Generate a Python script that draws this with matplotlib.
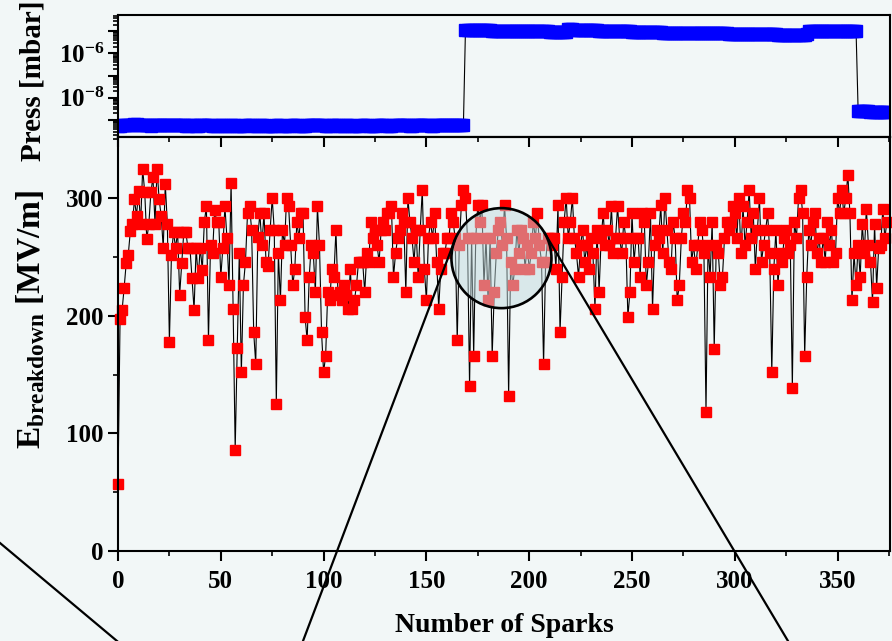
import numpy as np
import matplotlib
matplotlib.use('Agg')
import matplotlib.pyplot as plt
from matplotlib.patches import Ellipse
from matplotlib.lines import Line2D
from matplotlib.ticker import MultipleLocator, LogLocator, FuncFormatter, NullFormatter

plt.rcParams['font.family'] = 'Liberation Serif'
plt.rcParams['font.weight'] = 'bold'
plt.rcParams['mathtext.fontset'] = 'custom'
plt.rcParams['mathtext.rm'] = 'Liberation Serif:bold'
plt.rcParams['mathtext.bf'] = 'Liberation Serif:bold'
plt.rcParams['mathtext.it'] = 'Liberation Serif:bold'
plt.rcParams['axes.linewidth'] = 1.5

# breakdown field per spark [MV/m]
e_field = [
    57, 197, 205, 224, 245, 252, 272, 278, 299, 285, 306, 278, 325, 305, 265, 278, 305, 318, 278, 325, 299, 285, 258, 312, 278,
    178, 252, 271, 258, 271, 218, 245, 271, 271, 258, 258, 232, 205, 258, 232, 258, 239, 280, 293, 179, 260, 253, 290, 280, 280,
    233, 258, 293, 266, 226, 313, 206, 86, 173, 253, 152, 226, 246, 287, 293, 273, 186, 159, 267, 287, 260, 287, 246, 242, 273,
    300, 273, 125, 253, 213, 273, 260, 300, 293, 260, 226, 240, 280, 266, 287, 287, 199, 179, 233, 260, 253, 220, 293, 260, 186,
    152, 166, 220, 213, 240, 233, 273, 218, 220, 213, 226, 218, 206, 240, 206, 213, 226, 246, 246, 246, 220, 253, 246, 280, 266,
    273, 260, 246, 273, 280, 273, 287, 287, 293, 233, 253, 266, 273, 287, 280, 220, 300, 280, 266, 246, 273, 233, 273, 307, 240,
    213, 266, 280, 266, 287, 246, 206, 240, 253, 253, 266, 266, 287, 280, 266, 179, 260, 294, 307, 300, 266, 140, 266, 166, 266,
    294, 280, 294, 226, 266, 213, 266, 166, 220, 253, 273, 280, 260, 294, 266, 132, 246, 226, 240, 273, 253, 273, 266, 240, 260,
    240, 253, 280, 266, 287, 260, 246, 159, 246, 266, 266, 260, 266, 240, 294, 186, 233, 280, 300, 266, 280, 300, 266, 253, 233,
    260, 273, 246, 260, 240, 266, 253, 206, 273, 220, 266, 287, 260, 273, 260, 293, 253, 266, 293, 266, 253, 280, 266, 199, 220,
    287, 246, 266, 266, 233, 287, 280, 226, 246, 287, 206, 260, 273, 266, 294, 253, 300, 273, 246, 240, 280, 266, 213, 226, 266,
    287, 280, 307, 300, 246, 260, 240, 260, 280, 273, 253, 118, 260, 233, 280, 172, 260, 253, 226, 233, 266, 280, 273, 280, 293,
    287, 266, 300, 253, 293, 260, 280, 307, 266, 287, 240, 273, 300, 246, 260, 273, 287, 253, 152, 240, 273, 226, 253, 246, 266,
    273, 253, 260, 139, 280, 266, 300, 307, 287, 166, 233, 273, 260, 280, 287, 253, 266, 246, 266, 246, 280, 260, 273, 246, 253,
    300, 287, 307, 287, 300, 320, 287, 213, 253, 226, 260, 233, 278, 253, 291, 260, 246, 212, 278, 224, 258, 260, 291, 266, 280,
]

# chamber pressure per spark, log10 of mbar
press_log = [
    -9.26, -9.26, -9.25, -9.25, -9.25, -9.25, -9.24, -9.22, -9.20, -9.20, -9.21, -9.22, -9.24, -9.25, -9.25, -9.25, -9.26, -9.25, -9.25, -9.24, -9.22, -9.21, -9.21, -9.22, -9.24,
    -9.25, -9.24, -9.22, -9.21, -9.22, -9.24, -9.25, -9.25, -9.26, -9.26, -9.25, -9.25, -9.25, -9.26, -9.26, -9.25, -9.25, -9.24, -9.24, -9.25, -9.25, -9.26, -9.26, -9.26, -9.25,
    -9.25, -9.25, -9.26, -9.26, -9.26, -9.25, -9.25, -9.25, -9.26, -9.26, -9.26, -9.26, -9.25, -9.25, -9.25, -9.25, -9.26, -9.26, -9.26, -9.25, -9.25, -9.25, -9.26, -9.26, -9.26,
    -9.26, -9.26, -9.25, -9.25, -9.25, -9.26, -9.26, -9.26, -9.26, -9.25, -9.25, -9.25, -9.25, -9.26, -9.26, -9.26, -9.26, -9.25, -9.25, -9.25, -9.25, -9.25, -9.24, -9.24, -9.25,
    -9.25, -9.26, -9.26, -9.26, -9.25, -9.25, -9.25, -9.25, -9.26, -9.26, -9.26, -9.25, -9.25, -9.25, -9.26, -9.26, -9.26, -9.26, -9.25, -9.25, -9.25, -9.25, -9.26, -9.26, -9.26,
    -9.26, -9.25, -9.25, -9.25, -9.25, -9.25, -9.26, -9.26, -9.26, -9.25, -9.25, -9.24, -9.24, -9.24, -9.25, -9.25, -9.25, -9.26, -9.26, -9.25, -9.25, -9.24, -9.24, -9.24, -9.25,
    -9.25, -9.25, -9.26, -9.26, -9.25, -9.25, -9.25, -9.24, -9.24, -9.24, -9.24, -9.25, -9.25, -9.25, -9.25, -9.25, -9.25, -9.25, -9.25, -4.95, -4.94, -4.94, -4.93, -4.94, -4.95,
    -4.95, -4.95, -4.96, -4.96, -4.95, -4.95, -4.96, -4.97, -4.97, -4.97, -4.97, -4.97, -4.98, -4.98, -4.98, -4.98, -4.99, -4.99, -4.99, -4.99, -4.99, -5.00, -5.00, -5.00, -5.00,
    -5.00, -5.00, -5.01, -5.01, -5.01, -5.01, -5.01, -5.01, -5.01, -5.01, -5.02, -5.02, -5.02, -5.02, -5.02, -5.02, -5.02, -5.02, -5.02, -4.92, -4.92, -4.92, -4.93, -4.93, -4.93,
    -4.94, -4.94, -4.94, -4.95, -4.95, -4.95, -4.96, -4.96, -4.96, -4.97, -4.97, -4.97, -4.98, -4.98, -4.98, -4.99, -4.99, -4.99, -5.00, -5.00, -5.00, -5.00, -5.01, -5.01, -5.01,
    -5.02, -5.02, -5.02, -5.03, -5.03, -5.03, -5.03, -5.04, -5.04, -5.04, -5.04, -5.05, -5.05, -5.05, -5.05, -5.06, -5.06, -5.06, -5.06, -5.06, -5.07, -5.07, -5.07, -5.07, -5.07,
    -5.07, -5.08, -5.08, -5.08, -5.08, -5.08, -5.08, -5.09, -5.09, -5.09, -5.09, -5.09, -5.09, -5.09, -5.10, -5.10, -5.10, -5.10, -5.10, -5.10, -5.10, -5.10, -5.11, -5.11, -5.11,
    -5.11, -5.11, -5.11, -5.11, -5.11, -5.12, -5.12, -5.12, -5.12, -5.12, -5.12, -5.13, -5.13, -5.13, -5.13, -5.13, -5.14, -5.14, -5.14, -5.14, -5.14, -5.15, -5.15, -5.15, -5.15,
    -5.15, -5.15, -5.16, -5.16, -5.16, -5.16, -5.15, -5.15, -5.15, -5.15, -5.14, -4.97, -4.97, -4.97, -4.97, -4.97, -4.98, -4.98, -4.98, -4.98, -4.98, -4.98, -4.99, -4.99, -4.99,
    -4.99, -4.99, -4.99, -4.99, -4.99, -5.00, -5.00, -5.00, -5.00, -5.00, -8.60, -8.60, -8.61, -8.62, -8.62, -8.62, -8.63, -8.63, -8.63, -8.63, -8.63, -8.63, -8.63, -8.63, -8.63,
]

sparks = np.arange(len(e_field))
pressure = 10.0 ** np.array(press_log)

# magnifier lens over the post-vent region
lens_center = (186.5, 249.0)
lens_radius_px = 50
lens_feet_px = [(303, 'left'), (788, 'right')]

W, H = 892, 641
bg = '#f2f7f7'
fig = plt.figure(figsize=(W / 100, H / 100), dpi=100, facecolor=bg)
ax_p = fig.add_axes([118 / W, 1 - 137 / H, 772 / W, 122 / H], facecolor=bg)
ax_e = fig.add_axes([118 / W, 1 - 551 / H, 772 / W, 414 / H], facecolor=bg, sharex=ax_p)

# pressure panel
ax_p.plot(sparks, pressure, '-', color='k', lw=0.8, marker='s', ms=8.5,
          mfc='#0000ff', mec='#0000ff')
ax_p.set_yscale('log')
ax_p.set_ylim(10 ** -9.77, 10 ** -4.27)
ax_p.yaxis.set_major_locator(LogLocator(base=10, numticks=20))
ax_p.yaxis.set_minor_locator(LogLocator(base=10, subs=np.arange(2, 10), numticks=20))
ax_p.yaxis.set_minor_formatter(NullFormatter())


def decade_label(v, pos):
    k = int(round(np.log10(v)))
    return r'$\mathbf{10^{%d}}$' % k if k in (-6, -8) else ''


ax_p.yaxis.set_major_formatter(FuncFormatter(decade_label))
ax_p.tick_params(axis='y', which='major', direction='out', length=7, width=1.5,
                 labelsize=18, pad=3)
ax_p.tick_params(axis='y', which='minor', direction='out', length=3.5, width=1.2)
ax_p.tick_params(axis='x', which='both', bottom=False, labelbottom=False)
ax_p.set_ylabel('Press [mbar]', fontsize=21, fontweight='bold')
ax_p.yaxis.set_label_coords(-0.093, 0.46)

# breakdown field panel
ax_e.plot(sparks, e_field, '-', color='k', lw=0.8, marker='s', ms=7.2,
          mfc='#ff0000', mec='#ff0000', clip_on=False)
ax_e.set_xlim(0, 375.5)
ax_e.set_ylim(0, 352)
ax_e.xaxis.set_major_locator(MultipleLocator(50))
ax_e.xaxis.set_minor_locator(MultipleLocator(25))
ax_e.yaxis.set_major_locator(MultipleLocator(100))
ax_e.yaxis.set_minor_locator(MultipleLocator(50))
ax_e.tick_params(which='major', direction='out', length=7, width=1.5, labelsize=18)
ax_e.tick_params(which='minor', direction='out', length=3.5, width=1.2)
ax_e.tick_params(axis='x', pad=7)

top = ax_e.secondary_xaxis('top')
top.xaxis.set_major_locator(MultipleLocator(50))
top.xaxis.set_minor_locator(MultipleLocator(25))
top.tick_params(which='major', direction='in', length=7, width=1.5, labeltop=False)
top.tick_params(which='minor', direction='in', length=3.5, width=1.2)

ax_e.set_xlabel('Number of Sparks', fontsize=20, fontweight='bold', labelpad=14)
ax_e.set_ylabel(r'$\mathbf{E}_{\mathbf{breakdown}}$ [MV/m]', fontsize=24, fontweight='bold')
ax_e.yaxis.set_label_coords(-0.092, 0.56)

# lens and its guide lines, drawn in figure pixels
to_fig = fig.transFigure.inverted()
c_px = ax_e.transData.transform(lens_center)
c_fig = to_fig.transform(c_px)
lens = Ellipse(c_fig, 2 * lens_radius_px / W, 2 * lens_radius_px / H,
               transform=fig.transFigure, facecolor=(0.76, 0.86, 0.87, 0.5),
               edgecolor='k', lw=1.9, zorder=5)
fig.add_artist(lens)


def tangent_point(p, c, r, side):
    d = c - p
    dist = np.hypot(d[0], d[1])
    ang = np.arctan2(d[1], d[0])
    alpha = np.arcsin(r / dist)
    run = np.sqrt(dist ** 2 - r ** 2)
    pts = [p + run * np.array([np.cos(ang + s * alpha), np.sin(ang + s * alpha)]) for s in (1, -1)]
    return min(pts, key=lambda q: q[0]) if side == 'left' else max(pts, key=lambda q: q[0])


for foot_x, side in lens_feet_px:
    p = np.array([foot_x, 0.0])
    t = tangent_point(p, c_px, lens_radius_px, side)
    start = p - 0.05 * (t - p)
    a = to_fig.transform(start)
    b = to_fig.transform(t)
    fig.add_artist(Line2D([a[0], b[0]], [a[1], b[1]], transform=fig.transFigure,
                          color='k', lw=1.6, zorder=6))

# guide line leaving the lower-left corner
fig.add_artist(Line2D([0, 117 / W], [98 / H, 0], transform=fig.transFigure,
                      color='k', lw=1.6, zorder=6))

fig.savefig('out.png', dpi=100, facecolor=bg)
